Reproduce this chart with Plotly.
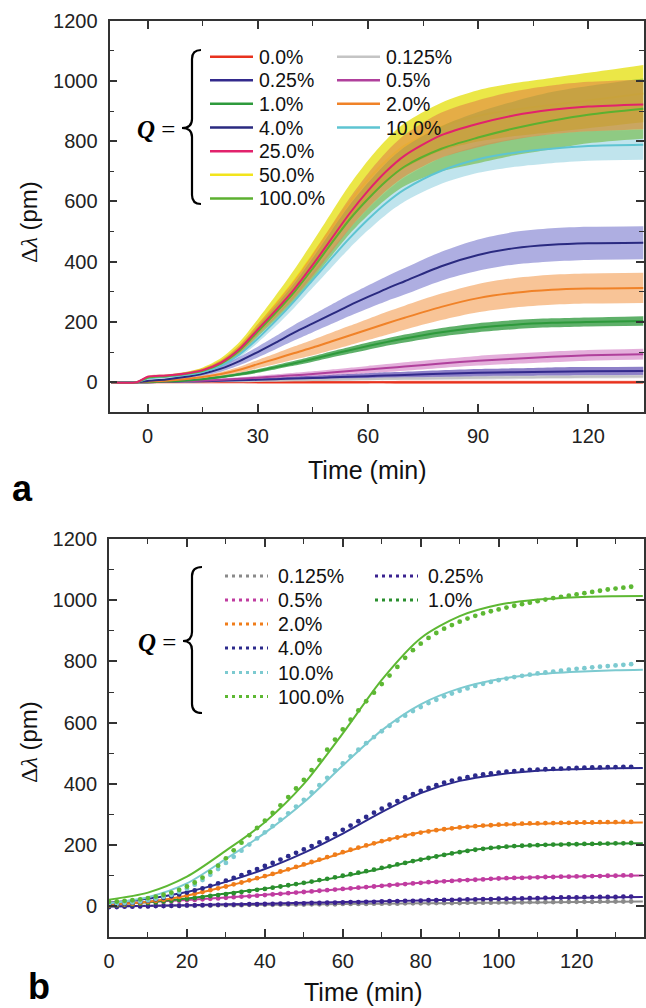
import plotly.graph_objects as go

W, H = 646, 1008

# ---------------- Panel a : mean and SD read at knot times (min) ----------------
A_T = [-10, -3, 0, 5, 10, 15, 20, 25, 30, 35, 40, 45, 50, 55, 60, 65, 70, 80, 90, 100, 110, 120, 135]
A_LABELS = ["0.0%", "0.125%", "0.25%", "0.5%", "1.0%", "2.0%", "4.0%", "10.0%", "25.0%", "50.0%", "100.0%"]

A_M_0 = [0, 0, 0, 0, 0, 0, 0, 0, 0, 0, 0, 0, 0, 0, 0, 0, 0, 0, 0, 0, 0, 0, 0]
A_S_0 = [2, 2, 3, 3, 3, 3, 3, 3, 4, 4, 4, 4, 4, 4, 4, 4, 5, 5, 5, 5, 5, 5, 5]
A_M_0125 = [0, 0, 0, 1, 1, 2, 3, 3, 4, 5, 6, 7, 8, 9, 10, 11, 12, 13, 15, 16, 17, 18, 19]
A_S_0125 = [1, 1, 1, 1, 1, 2, 2, 2, 2, 3, 3, 3, 4, 4, 4, 5, 5, 5, 6, 6, 6, 6, 6]
A_M_025 = [0, 0, 0, 1, 2, 3, 5, 6, 8, 10, 12, 14, 16, 18, 20, 22, 24, 28, 31, 33, 35, 36, 37]
A_S_025 = [1, 1, 1, 1, 2, 2, 3, 3, 4, 5, 6, 7, 8, 9, 10, 11, 11, 12, 13, 13, 14, 14, 14]
A_M_05 = [0, 0, 0, 1, 3, 5, 8, 11, 15, 19, 23, 27, 32, 37, 42, 47, 52, 62, 71, 78, 84, 89, 93]
A_S_05 = [1, 1, 1, 1, 2, 3, 4, 5, 6, 7, 8, 9, 10, 11, 12, 13, 14, 15, 16, 17, 18, 18, 18]
A_M_1 = [0, 0, 0, 2, 5, 10, 17, 26, 37, 50, 63, 77, 92, 106, 120, 133, 145, 166, 181, 191, 197, 200, 203]
A_S_1 = [1, 1, 1, 1, 2, 3, 4, 5, 6, 7, 8, 9, 10, 11, 12, 12, 13, 14, 15, 15, 15, 15, 16]
A_M_2 = [0, 0, 2, 5, 10, 17, 27, 41, 60, 78, 97, 115, 135, 155, 175, 195, 214, 250, 279, 297, 307, 311, 313]
A_S_2 = [1, 1, 2, 3, 4, 5, 7, 10, 14, 18, 22, 26, 29, 32, 35, 38, 40, 44, 47, 49, 50, 50, 50]
A_M_4 = [0, 0, 4, 9, 17, 28, 45, 70, 100, 132, 165, 195, 225, 255, 283, 310, 335, 385, 422, 445, 456, 461, 463]
A_S_4 = [1, 1, 2, 3, 5, 7, 10, 14, 18, 22, 26, 29, 32, 35, 38, 41, 44, 48, 52, 54, 55, 55, 55]
A_M_10 = [0, 0, 12, 18, 24, 34, 55, 92, 145, 205, 270, 340, 410, 478, 540, 595, 640, 702, 740, 762, 775, 784, 788]
A_S_10 = [1, 1, 3, 4, 5, 6, 8, 10, 14, 18, 22, 26, 30, 33, 36, 38, 40, 43, 45, 47, 48, 49, 50]
A_M_25 = [0, 0, 18, 22, 28, 40, 65, 110, 175, 240, 310, 390, 475, 560, 635, 700, 752, 820, 858, 886, 904, 915, 922]
A_S_25 = [1, 1, 3, 4, 5, 6, 9, 13, 18, 24, 30, 37, 44, 51, 58, 64, 69, 75, 78, 80, 81, 82, 82]
A_M_50 = [0, 0, 15, 20, 28, 42, 70, 118, 188, 262, 340, 425, 512, 598, 672, 735, 785, 848, 884, 905, 920, 935, 958]
A_S_50 = [1, 1, 3, 4, 5, 7, 10, 15, 21, 28, 35, 42, 50, 57, 64, 70, 75, 80, 85, 88, 90, 92, 95]
A_M_100 = [0, 0, 15, 20, 27, 38, 62, 105, 168, 232, 300, 378, 460, 540, 608, 668, 716, 775, 812, 843, 868, 888, 908]
A_S_100 = [1, 1, 3, 4, 5, 6, 9, 12, 17, 23, 29, 35, 42, 48, 54, 60, 65, 75, 85, 90, 95, 95, 100]

# ---------------- Panel b : fitted curves (knots) and measured points ----------------
B_LABELS = ["0.125%", "0.25%", "0.5%", "1.0%", "2.0%", "4.0%", "10.0%", "100.0%"]
B_FIT_T = [0, 10, 20, 30, 40, 50, 60, 70, 80, 90, 100, 110, 120, 130, 137]
B_FIT_0125 = [0, 1, 3, 4, 5, 6, 8, 9, 10, 11, 12, 13, 14, 15, 16]
B_FIT_025 = [0, 2, 4, 7, 9, 12, 14, 17, 19, 22, 24, 26, 28, 30, 31]
B_FIT_05 = [8, 14, 21, 29, 38, 47, 57, 67, 77, 85, 91, 95, 98, 100, 101]
B_FIT_1 = [5, 14, 26, 42, 58, 76, 98, 124, 153, 178, 193, 200, 203, 205, 206]
B_FIT_2 = [5, 15, 35, 65, 98, 135, 175, 212, 242, 258, 266, 270, 272, 273, 274]
B_FIT_4 = [12, 25, 47, 80, 122, 175, 238, 308, 370, 410, 431, 443, 448, 451, 452]
B_FIT_10 = [10, 30, 75, 155, 240, 340, 460, 575, 660, 712, 742, 758, 766, 771, 773]
B_FIT_100 = [22, 45, 97, 182, 275, 400, 565, 740, 876, 948, 985, 1002, 1010, 1013, 1014]

B_DATA_T = list(range(0, 135, 2))
B_DAT_0125 = [0, 0, 1, 1, 1, 1, 2, 2, 2, 2,
              3, 3, 3, 3, 4, 4, 4, 4, 5, 5,
              5, 5, 6, 6, 6, 6, 7, 7, 7, 7,
              8, 8, 8, 8, 9, 9, 9, 9, 10, 10,
              10, 10, 11, 11, 11, 11, 12, 12, 12, 12,
              13, 13, 13, 13, 14, 14, 14, 14, 15, 15,
              15, 15, 15, 16, 16, 16, 16, 16]
B_DAT_025 = [-2, -2, -1, -1, 0, 0, 1, 1, 2, 2,
             3, 3, 4, 4, 5, 5, 6, 6, 7, 7,
             8, 8, 9, 9, 10, 10, 11, 11, 12, 12,
             13, 14, 14, 15, 15, 16, 17, 17, 18, 18,
             19, 20, 20, 21, 21, 22, 23, 23, 24, 24,
             25, 25, 26, 26, 27, 27, 28, 28, 29, 29,
             29, 30, 30, 31, 31, 31, 32, 32]
B_DAT_05 = [6, 7, 8, 10, 11, 12, 14, 15, 17, 18,
            20, 21, 23, 25, 26, 28, 30, 32, 33, 35,
            37, 39, 41, 43, 45, 47, 49, 51, 53, 55,
            57, 59, 61, 63, 65, 67, 69, 71, 73, 75,
            77, 79, 80, 82, 83, 85, 86, 87, 88, 90,
            91, 92, 93, 93, 94, 95, 96, 96, 97, 97,
            98, 98, 99, 99, 100, 100, 101, 101]
B_DAT_1 = [2, 3, 5, 7, 9, 11, 13, 16, 18, 21,
           24, 27, 30, 34, 37, 40, 43, 47, 50, 54,
           57, 61, 65, 69, 73, 77, 81, 86, 90, 95,
           100, 105, 110, 115, 120, 126, 131, 137, 142, 148,
           153, 158, 163, 168, 173, 177, 181, 185, 188, 191,
           193, 195, 197, 198, 199, 200, 201, 202, 202, 203,
           203, 204, 204, 205, 205, 206, 206, 207]
B_DAT_2 = [3, 5, 7, 9, 12, 15, 18, 22, 26, 31,
           36, 41, 47, 53, 59, 65, 72, 78, 85, 92,
           99, 106, 114, 121, 129, 137, 145, 153, 161, 169,
           177, 185, 192, 199, 206, 213, 219, 225, 231, 236,
           241, 245, 249, 252, 255, 258, 260, 262, 264, 265,
           267, 268, 269, 270, 271, 271, 272, 272, 273, 273,
           274, 274, 274, 275, 275, 275, 276, 276]
B_DAT_4 = [5, 7, 9, 12, 15, 19, 23, 28, 33, 39,
           45, 52, 59, 67, 75, 84, 93, 102, 112, 122,
           132, 142, 153, 164, 175, 186, 197, 209, 222, 236,
           250, 264, 278, 292, 306, 319, 332, 344, 356, 367,
           377, 387, 396, 404, 411, 417, 422, 427, 431, 434,
           437, 440, 442, 444, 446, 447, 448, 449, 450, 451,
           452, 453, 454, 454, 455, 455, 456, 456]
B_DAT_10 = [8, 9, 11, 13, 16, 20, 25, 31, 38, 47,
            58, 71, 86, 103, 122, 142, 162, 182, 202, 222,
            242, 262, 283, 304, 326, 348, 372, 396, 420, 444,
            467, 490, 512, 533, 553, 572, 590, 607, 623, 638,
            651, 664, 675, 686, 695, 704, 712, 720, 727, 733,
            739, 744, 749, 753, 757, 761, 764, 767, 770, 773,
            776, 778, 781, 783, 785, 787, 789, 791]
B_DAT_100 = [15, 16, 18, 20, 23, 27, 32, 38, 45, 54,
             65, 78, 94, 112, 133, 157, 183, 208, 232, 256,
             280, 305, 330, 357, 385, 413, 445, 478, 512, 545,
             578, 610, 640, 670, 698, 726, 754, 782, 812, 837,
             858, 877, 893, 907, 919, 930, 940, 949, 957, 964,
             970, 976, 982, 987, 992, 997, 1002, 1007, 1011, 1015,
             1019, 1023, 1027, 1031, 1035, 1038, 1041, 1044]

X_TICKS_A = [0, 30, 60, 90, 120]
X_TICKS_B = [0, 20, 40, 60, 80, 100, 120]
Y_TICKS = [0, 200, 400, 600, 800, 1000, 1200]

# ---------------- styles ----------------
A_LINE = ["#e8321e", "#c4c4c4", "#332a8c", "#b0409c", "#2e9a3c", "#f08228",
          "#2a2a80", "#5ec4d2", "#e2226c", "#f2e41c", "#5cb030"]
A_FILL = ["rgba(235,60,40,0.6)", "rgba(200,200,200,0.55)", "rgba(80,60,170,0.65)",
          "rgba(205,110,190,0.55)", "rgba(40,150,55,0.75)", "rgba(245,165,95,0.65)",
          "rgba(120,120,205,0.6)", "rgba(150,210,225,0.6)", "rgba(225,135,70,0.6)",
          "rgba(230,225,25,0.8)", "rgba(110,185,60,0.6)"]
B_COL = ["#8a8a8a", "#3a2290", "#c03ca0", "#2a8f2e", "#f07d1a", "#2c2a8c", "#7ccad0", "#5db833"]

FONT = "Arial, Liberation Sans, sans-serif"
SERIF = "Times New Roman, Liberation Serif, serif"


def px_x(p):
    return p / W


def px_y(p):
    return 1 - p / H


fig = go.Figure()

A_SERIES = [(A_M_0, A_S_0), (A_M_0125, A_S_0125), (A_M_025, A_S_025), (A_M_05, A_S_05),
            (A_M_1, A_S_1), (A_M_2, A_S_2), (A_M_4, A_S_4), (A_M_10, A_S_10),
            (A_M_25, A_S_25), (A_M_50, A_S_50), (A_M_100, A_S_100)]

SPL = dict(shape="spline", smoothing=0.8)

band_order = [9, 7, 10, 8, 6, 5, 4, 3, 2, 1, 0]
for i in band_order:
    m, s = A_SERIES[i]
    lo = [a - b for a, b in zip(m, s)]
    hi = [a + b for a, b in zip(m, s)]
    fig.add_trace(go.Scatter(x=A_T, y=lo, mode="lines", line=dict(width=0, **SPL),
                             showlegend=False, hoverinfo="skip", xaxis="x", yaxis="y"))
    fig.add_trace(go.Scatter(x=A_T, y=hi, mode="lines", line=dict(width=0, **SPL),
                             fill="tonexty", fillcolor=A_FILL[i], showlegend=False,
                             hoverinfo="skip", xaxis="x", yaxis="y"))
    if i == 9:
        fig.add_trace(go.Scatter(x=A_T, y=m, mode="lines", name=A_LABELS[i],
                                 line=dict(width=2, color=A_LINE[i], **SPL),
                                 showlegend=False, xaxis="x", yaxis="y"))

for i in [0, 1, 2, 3, 4, 5, 6, 7, 10, 8]:
    m, _ = A_SERIES[i]
    fig.add_trace(go.Scatter(x=A_T, y=m, mode="lines", name=A_LABELS[i],
                             line=dict(width=2, color=A_LINE[i], **SPL),
                             showlegend=False, xaxis="x", yaxis="y"))

B_FITS = [B_FIT_0125, B_FIT_025, B_FIT_05, B_FIT_1, B_FIT_2, B_FIT_4, B_FIT_10, B_FIT_100]
B_DATS = [B_DAT_0125, B_DAT_025, B_DAT_05, B_DAT_1, B_DAT_2, B_DAT_4, B_DAT_10, B_DAT_100]
for i in range(len(B_LABELS)):
    fig.add_trace(go.Scatter(x=B_FIT_T, y=B_FITS[i], mode="lines", name=B_LABELS[i] + " fit",
                             line=dict(width=2, color=B_COL[i], **SPL),
                             showlegend=False, xaxis="x2", yaxis="y2"))
for i in range(len(B_LABELS)):
    fig.add_trace(go.Scatter(x=B_DATA_T, y=B_DATS[i], mode="markers", name=B_LABELS[i],
                             marker=dict(size=4.8, color=B_COL[i]),
                             showlegend=False, xaxis="x2", yaxis="y2"))


# ---------------- axes ----------------
def axis(domain, rng, tickvals, minor_dtick, anchor, standoff):
    return dict(domain=domain, range=rng, anchor=anchor, tickmode="array", tickvals=tickvals,
                automargin=False,
                showline=True, linecolor="#333", linewidth=1.8, mirror="ticks",
                ticks="inside", ticklen=8, tickwidth=1.6, tickcolor="#333",
                showgrid=False, zeroline=False, ticklabelstandoff=standoff,
                tickfont=dict(family=FONT, size=20, color="#222"),
                minor=dict(ticks="inside", ticklen=5, tickwidth=1.4, tickcolor="#333",
                           dtick=minor_dtick, tick0=0, showgrid=False))


layout = dict(
    width=W, height=H, margin=dict(l=0, r=0, t=0, b=0, pad=0), autosize=False,
    paper_bgcolor="white", plot_bgcolor="white", showlegend=False,
    xaxis=axis([px_x(109.5), px_x(644)], [-10.4, 135.2], X_TICKS_A, 15, "y", 5),
    yaxis=axis([px_y(412.3), px_y(20.7)], [-100, 1200], Y_TICKS, 100, "x", 6),
    xaxis2=axis([px_x(109), px_x(644)], [0, 137.3], X_TICKS_B, 10, "y2", 5),
    yaxis2=axis([px_y(937), px_y(539)], [-100, 1200], Y_TICKS, 100, "x2", 6),
)
fig.update_layout(**layout)

ann = []
shapes = []


def text(x, y, s, size=19, anchor="left", family=FONT, angle=0, color="#111"):
    ann.append(dict(x=px_x(x), y=px_y(y), xref="paper", yref="paper", text=s, showarrow=False,
                    xanchor=anchor, yanchor="middle", textangle=angle,
                    font=dict(family=family, size=size, color=color)))


# axis titles and panel letters
text(367, 470, "Time (min)", 25, "center")
text(363, 992, "Time (min)", 25, "center")
ytitle = '<span style="font-family:Liberation Serif">Δ<i>λ</i></span> (pm)'
text(28, 222, ytitle, 24, "center", angle=-90)
text(28, 742, ytitle, 24, "center", angle=-90)
text(22, 488, "<b>a</b>", 36, "center", color="#000")
text(39, 986, "<b>b</b>", 36, "center", color="#000")

# Q = braces
text(156, 129, "<b><i>Q</i></b> =", 25, "center", family=SERIF, color="#000")
text(157, 642, "<b><i>Q</i></b> =", 25, "center", family=SERIF, color="#000")


def brace(xe, xl, xt, yt, ym, yb):
    r = 9
    pts = [
        "M %f,%f" % (px_x(xe), px_y(yt)),
        "Q %f,%f %f,%f" % (px_x(xl), px_y(yt), px_x(xl), px_y(yt + r)),
        "L %f,%f" % (px_x(xl), px_y(ym - r)),
        "Q %f,%f %f,%f" % (px_x(xl), px_y(ym), px_x(xt), px_y(ym)),
        "Q %f,%f %f,%f" % (px_x(xl), px_y(ym), px_x(xl), px_y(ym + r)),
        "L %f,%f" % (px_x(xl), px_y(yb - r)),
        "Q %f,%f %f,%f" % (px_x(xl), px_y(yb), px_x(xe), px_y(yb)),
    ]
    shapes.append(dict(type="path", path=" ".join(pts), xref="paper", yref="paper",
                       line=dict(color="#000", width=2.2)))


brace(201, 192, 182, 50, 128, 204)
brace(202, 192, 183, 567, 641, 713)

# legend of panel a (two columns)
A_ROWS = [56.7, 80.3, 103.8, 127.5, 151.2, 174.8, 198.5]
A_COL1 = [0, 2, 4, 6, 8, 9, 10]
A_COL2 = [1, 3, 5, 7]
for col, (x0, x1, xt) in zip([A_COL1, A_COL2], [(210, 253, 257), (337, 380, 384)]):
    for r, i in enumerate(col):
        shapes.append(dict(type="line", xref="paper", yref="paper",
                           x0=px_x(x0), x1=px_x(x1), y0=px_y(A_ROWS[r]), y1=px_y(A_ROWS[r]),
                           line=dict(color=A_LINE[i], width=2.5)))
        text(xt, A_ROWS[r], A_LABELS[i], 19.5)

# legend of panel b (dotted samples)
B_ROWS = [576, 600, 624, 648, 672.5, 696.5]
B_COL1 = [0, 2, 4, 5, 6, 7]
B_COL2 = [1, 3]
for col, (x0, x1, xt) in zip([B_COL1, B_COL2], [(225, 268, 276), (375, 418, 426)]):
    for r, i in enumerate(col):
        shapes.append(dict(type="line", xref="paper", yref="paper",
                           x0=px_x(x0), x1=px_x(x1), y0=px_y(B_ROWS[r]), y1=px_y(B_ROWS[r]),
                           line=dict(color=B_COL[i], width=3.2, dash="3px,4px")))
        text(xt, B_ROWS[r], B_LABELS[i], 19.5)

fig.update_layout(annotations=ann, shapes=shapes)
fig.write_html(
    "out.html",
    config={"displayModeBar": False},
    post_script="document.body.style.margin='0';document.body.style.overflow='hidden';"
                "document.documentElement.style.overflow='hidden';",
)
